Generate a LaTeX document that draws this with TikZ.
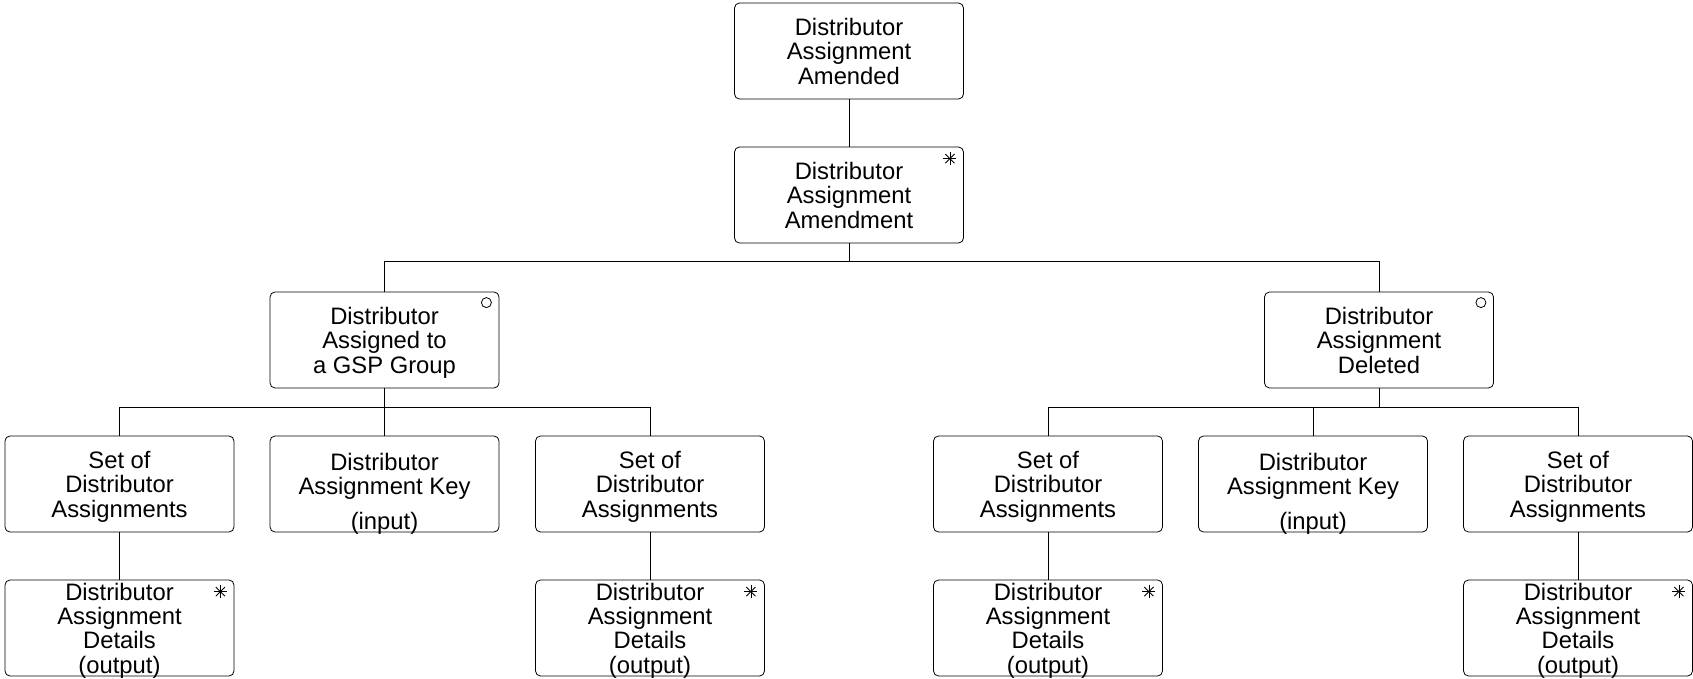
\documentclass[tikz,border=0pt]{standalone}
\usepackage{fontspec}
\setmainfont{Liberation Sans}

\begin{document}
\begin{tikzpicture}[x=0.5pt,y=-0.5pt,
    box/.style={draw,rounded corners=2.5pt,minimum width=114.5pt,minimum height=48pt,
        inner sep=0pt,align=center,text depth=0pt,font=\fontsize{11.9}{12.2}\selectfont},
    txt/.style={inner sep=0pt,align=center,text depth=0pt,font=\fontsize{11.9}{12.2}\selectfont},
    link/.style={line width=0.5pt}]
    \useasboundingbox (0,0) rectangle (1693,679);

    % top two levels
    \node[box] (amended) at (849,51) {Distributor\\Assignment\\Amended};
    \node[box] (amendment) at (849,195) {Distributor\\Assignment\\Amendment};

    % third level
    \node[box] (gsp) at (384.5,340) {Distributor\\Assigned to\\a GSP Group};
    \node[box] (deleted) at (1379,340) {Distributor\\Assignment\\Deleted};

    % fourth level
    \node[box] (setA) at (119.5,484) {Set of\\Distributor\\Assignments};
    \node[box] (keyA) at (384.5,484) {};
    \node[txt] (keyAtxt) at ([yshift=-3.5pt]keyA.center) {Distributor\\Assignment Key\\[5pt](input)};
    \node[box] (setB) at (650,484) {Set of\\Distributor\\Assignments};
    \node[box] (setC) at (1048,484) {Set of\\Distributor\\Assignments};
    \node[box] (keyB) at (1313,484) {};
    \node[txt] (keyBtxt) at ([yshift=-3.5pt]keyB.center) {Distributor\\Assignment Key\\[5pt](input)};
    \node[box] (setD) at (1578,484) {Set of\\Distributor\\Assignments};

    % fifth level
    \node[box] (detA) at (119.5,628) {Distributor\\Assignment\\Details\\(output)};
    \node[box] (detB) at (650,628) {Distributor\\Assignment\\Details\\(output)};
    \node[box] (detC) at (1048,628) {Distributor\\Assignment\\Details\\(output)};
    \node[box] (detD) at (1578,628) {Distributor\\Assignment\\Details\\(output)};

    % connectors
    \draw[link] (amended) -- (amendment);
    \draw[link] (amendment.south) -- ++(0,18) coordinate (barA);
    \draw[link] (gsp.north) |- (barA) -| (deleted.north);
    \draw[link] (gsp.south) -- (keyA.north);
    \draw[link] (setA.north) |- ([yshift=-9.5pt]gsp.south) -| (setB.north);
    \draw[link] (deleted.south) -- ++(0,19) coordinate (barB);
    \draw[link] (setC.north) |- (barB) -| (setD.north);
    \draw[link] (keyB.north) -- (keyB.north |- barB);
    \draw[link] (setA) -- (detA);
    \draw[link] (setB) -- (detB);
    \draw[link] (setC) -- (detC);
    \draw[link] (setD) -- (detD);

    % markers
    \foreach \b in {amendment,detA,detB,detC,detD}
      \foreach \a in {0,45,90,135}
        \draw[line width=0.4pt] ([shift={(-14,12)}]\b.north east) ++(\a:6.5) -- ++(\a+180:13);
    \foreach \b in {gsp,deleted}
      \draw[line width=0.4pt] ([shift={(-13,11)}]\b.north east) circle (5);
\end{tikzpicture}
\end{document}
